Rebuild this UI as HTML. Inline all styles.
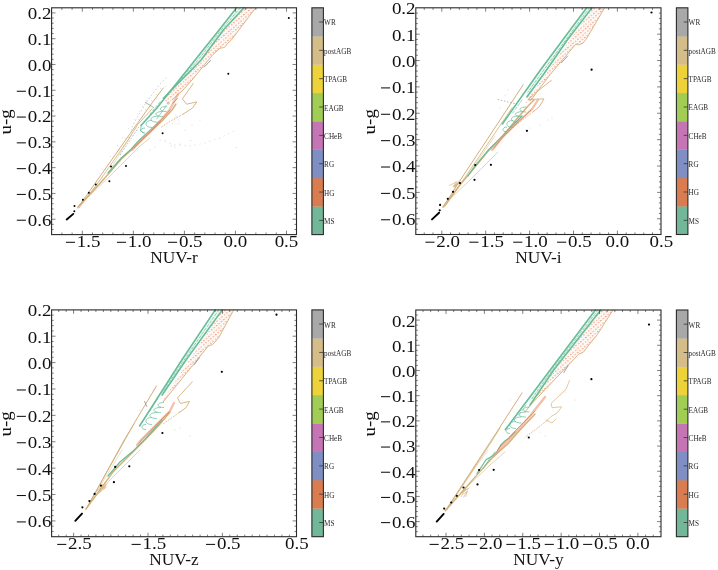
<!DOCTYPE html>
<html><head><meta charset="utf-8"><style>
html,body{margin:0;padding:0;background:#fff;width:718px;height:570px;overflow:hidden}
svg{display:block;will-change:transform}
.tl{font-family:"Liberation Serif", serif;font-size:16.5px;fill:#111}
.al{font-family:"Liberation Serif", serif;font-size:16.5px;fill:#111}
.cl{font-family:"Liberation Serif", serif;font-size:7.2px;fill:#2a2a2a}
</style></head><body>
<svg width="718" height="570" viewBox="0 0 718 570">
<rect width="718" height="570" fill="#fff"/>
<defs>
<pattern id="hatch" width="3.2" height="3.2" patternUnits="userSpaceOnUse" patternTransform="rotate(-40)">
<path d="M0.5 0.5L2.3 2.3M2.3 0.5L0.5 2.3" stroke="#ee8f6a" stroke-width="0.7" opacity="0.85"/>
</pattern>
</defs>
<g><path d="M132.0 127.0 L138.0 116.0 L146.0 103.0 L154.0 92.0 L160.0 84.0 L166.0 78.0" fill="none" stroke="#b8b8b8" stroke-width="0.70" stroke-linejoin="round" stroke-linecap="round" stroke-dasharray="0.7 3"/><path d="M160.0 140.0 L175.0 145.0 L190.0 146.0 L205.0 143.0 L220.0 138.0 L236.0 130.0" fill="none" stroke="#d5cdb8" stroke-width="0.60" stroke-linejoin="round" stroke-linecap="round" stroke-dasharray="0.6 4.5"/><circle cx="99.6" cy="173.4" r="0.45" fill="#bbb"/><circle cx="110.4" cy="156.6" r="0.45" fill="#bbb"/><circle cx="117.6" cy="145.4" r="0.45" fill="#bbb"/><circle cx="122.6" cy="137.6" r="0.45" fill="#bbb"/><circle cx="128.4" cy="128.6" r="0.45" fill="#bbb"/><circle cx="134.2" cy="119.6" r="0.45" fill="#bbb"/><circle cx="139.2" cy="111.8" r="0.45" fill="#bbb"/><circle cx="142.8" cy="106.2" r="0.45" fill="#bbb"/><circle cx="146.4" cy="100.6" r="0.45" fill="#bbb"/><circle cx="104.1" cy="169.5" r="0.45" fill="#bbb"/><circle cx="117.2" cy="150.8" r="0.45" fill="#bbb"/><circle cx="125.8" cy="138.2" r="0.45" fill="#bbb"/><circle cx="131.9" cy="129.5" r="0.45" fill="#bbb"/><circle cx="138.9" cy="119.5" r="0.45" fill="#bbb"/><circle cx="145.9" cy="109.5" r="0.45" fill="#bbb"/><circle cx="151.9" cy="100.8" r="0.45" fill="#bbb"/><circle cx="156.3" cy="94.5" r="0.45" fill="#bbb"/><circle cx="160.6" cy="88.2" r="0.45" fill="#bbb"/><circle cx="105.6" cy="168.9" r="0.45" fill="#bbb"/><circle cx="119.4" cy="149.8" r="0.45" fill="#bbb"/><circle cx="128.6" cy="137.1" r="0.45" fill="#bbb"/><circle cx="135.0" cy="128.3" r="0.45" fill="#bbb"/><circle cx="142.4" cy="118.1" r="0.45" fill="#bbb"/><circle cx="149.8" cy="107.9" r="0.45" fill="#bbb"/><circle cx="156.2" cy="99.0" r="0.45" fill="#bbb"/><circle cx="160.8" cy="92.7" r="0.45" fill="#bbb"/><circle cx="165.4" cy="86.4" r="0.45" fill="#bbb"/><path d="M244.0 8.0 L255.5 8.0 L231.6 39.7 L220.0 48.2 L213.0 54.5 L208.4 60.0 L192.0 80.0 L182.0 91.0 L172.0 100.0 L167.6 104.0 L163.4 98.2 L181.5 80.0 L201.1 60.0 L223.4 30.0Z" fill="url(#hatch)" /><path d="M255.5 8.0 L231.6 39.7 L227.0 44.0 L224.5 47.5 L220.0 48.2 L213.0 54.5 L208.4 60.0 L192.0 80.0 L182.0 91.0 L172.0 100.0" fill="none" stroke="#d2b07a" stroke-width="0.90" stroke-linejoin="round" stroke-linecap="round" /><path d="M77.5 208.0 L98.2 179.0 L130.0 133.7 L154.2 100.0 L163.3 88.0" fill="none" stroke="#d2b07a" stroke-width="1.00" stroke-linejoin="round" stroke-linecap="round" /><path d="M79.0 208.0 L100.8 179.0 L128.0 140.0 L137.7 124.6 L152.0 109.0" fill="none" stroke="#d2b07a" stroke-width="0.80" stroke-linejoin="round" stroke-linecap="round" /><path d="M80.0 206.0 L104.5 179.0 L131.8 134.0" fill="none" stroke="#d2b07a" stroke-width="0.60" stroke-linejoin="round" stroke-linecap="round" opacity="0.7"/><path d="M78.0 207.0 L109.7 172.6 L121.3 159.0 L130.8 150.5 L139.2 142.1 L149.7 132.6 L162.0 121.0 L172.0 110.0 L176.0 104.0" fill="none" stroke="#d2b07a" stroke-width="1.40" stroke-linejoin="round" stroke-linecap="round" /><path d="M85.0 200.0 L110.0 176.0 L126.0 160.0 L140.0 146.0 L150.0 138.0" fill="none" stroke="#d2b07a" stroke-width="0.70" stroke-linejoin="round" stroke-linecap="round" opacity="0.8"/><path d="M108.0 173.0 L121.3 158.0 L130.8 149.5 L139.1 140.2 L149.7 130.6 L160.0 121.0" fill="none" stroke="#66bd98" stroke-width="1.20" stroke-linejoin="round" stroke-linecap="round" /><path d="M132.0 150.0 L141.9 140.0 L155.0 127.0 L170.0 109.1 L178.2 94.0" fill="none" stroke="#ec9e7c" stroke-width="2.20" stroke-linejoin="round" stroke-linecap="round" opacity="0.65"/><path d="M134.0 148.0 L143.0 139.0 L156.0 126.0 L170.0 110.0" fill="none" stroke="#e0875c" stroke-width="0.80" stroke-linejoin="round" stroke-linecap="round" /><circle cx="168.3" cy="103.2" r="1.6" fill="#d2b07a" opacity="0.6"/><path d="M145.4 102.5 L153.5 107.4" fill="none" stroke="#8a8a8a" stroke-width="0.70" stroke-linejoin="round" stroke-linecap="round" /><path d="M204.2 67.1 L210.5 60.5" fill="none" stroke="#8a8a8a" stroke-width="0.80" stroke-linejoin="round" stroke-linecap="round" /><path d="M120.3 154.7 L139.2 126.3" fill="none" stroke="#aaa" stroke-width="0.80" stroke-linejoin="round" stroke-linecap="round" stroke-dasharray="0.8 2.4"/><path d="M152.1 120.4 C144.0 120.4 144.0 127.4 152.1 127.4" fill="none" stroke="#66bd98" stroke-width="0.75"/><path d="M158.0 116.2 C148.6 116.2 148.6 122.2 158.0 122.2" fill="none" stroke="#66bd98" stroke-width="0.75"/><path d="M163.0 111.5 C153.6 111.5 153.6 116.5 163.0 116.5" fill="none" stroke="#66bd98" stroke-width="0.75"/><path d="M166.5 106.5 C158.4 106.5 158.4 111.5 166.5 111.5" fill="none" stroke="#66bd98" stroke-width="0.75"/><path d="M145.0 128.0 C139.6 128.0 139.6 133.0 145.0 133.0" fill="none" stroke="#66bd98" stroke-width="0.75"/><path d="M177.5 98.6 L172.5 103.2" fill="none" stroke="#66bd98" stroke-width="0.90" stroke-linejoin="round" stroke-linecap="round" /><path d="M166.5 105.6 L156.7 119.0" fill="none" stroke="#66bd98" stroke-width="0.80" stroke-linejoin="round" stroke-linecap="round" opacity="0.8"/><path d="M236.6 7.8 L219.1 30.0 L195.1 60.0 L179.2 80.0 L169.6 92.0 L156.9 108.0 L141.2 125.3" fill="none" stroke="#66bd98" stroke-width="1.60" stroke-linejoin="round" stroke-linecap="round" /><path d="M236.6 7.8 L219.1 30.0 L195.1 60.0 L179.2 80.0 L163.4 98.2 L181.5 80.0 L201.1 60.0 L223.4 30.0 L244.0 7.8Z" fill="#66bd98" opacity="0.12"/><path d="M141.2 125.3 L140.5 130.9 L144.0 133.0" fill="none" stroke="#66bd98" stroke-width="0.80" stroke-linejoin="round" stroke-linecap="round" /><path d="M244.0 7.8 L223.4 30.0 L201.1 60.0 L181.5 80.0 L163.4 98.2" fill="none" stroke="#66bd98" stroke-width="1.60" stroke-linejoin="round" stroke-linecap="round" /><path d="M240.3 7.8 L221.2 30.0 L198.1 60.0 L180.3 80.0 L166.0 95.0" fill="none" stroke="#66bd98" stroke-width="0.90" stroke-linejoin="round" stroke-linecap="round" stroke-dasharray="2.5 2" opacity="0.75"/><path d="M160.0 102.0 L150.0 114.0" fill="none" stroke="#66bd98" stroke-width="0.80" stroke-linejoin="round" stroke-linecap="round" stroke-dasharray="2.5 2" opacity="0.8"/><path d="M193.2 83.5 L182.4 98.9 L186.6 104.2 L196.8 101.9 L192.5 108.1 L183.0 114.2" fill="none" stroke="#d2b07a" stroke-width="0.90" stroke-linejoin="round" stroke-linecap="round" /><path d="M183.0 114.2 L170.5 121.0 L160.0 128.0" fill="none" stroke="#d2b07a" stroke-width="0.80" stroke-linejoin="round" stroke-linecap="round" stroke-dasharray="1 2"/><path d="M172.0 124.0 L176.0 115.0 L180.0 124.0 L172.0 124.0" fill="none" stroke="#d2b07a" stroke-width="0.40" stroke-linejoin="round" stroke-linecap="round" opacity="0.45" stroke-dasharray="1 1"/><circle cx="190.7" cy="140.5" r="0.50" fill="#ccb"/><circle cx="171.4" cy="145.8" r="0.50" fill="#ccb"/><circle cx="236.3" cy="147.5" r="0.50" fill="#ccb"/><circle cx="175.0" cy="147.0" r="0.50" fill="#ccb"/><circle cx="180.0" cy="144.0" r="0.50" fill="#ccb"/><circle cx="150.0" cy="150.0" r="0.50" fill="#ccb"/><circle cx="155.0" cy="147.0" r="0.50" fill="#ccb"/><circle cx="185.0" cy="130.0" r="0.50" fill="#ccb"/><circle cx="192.0" cy="125.0" r="0.50" fill="#ccb"/><circle cx="165.0" cy="140.0" r="0.50" fill="#ccb"/><circle cx="200.0" cy="120.0" r="0.50" fill="#ccb"/><path d="M66.7 219.5 L73.3 213.9" fill="none" stroke="#000" stroke-width="1.90" stroke-linejoin="round" stroke-linecap="round" /><circle cx="74.3" cy="211.3" r="1.00" fill="#000"/><circle cx="74.5" cy="205.9" r="1.00" fill="#000"/><circle cx="82.9" cy="199.8" r="1.00" fill="#000"/><circle cx="88.8" cy="192.8" r="1.00" fill="#000"/><circle cx="95.8" cy="184.4" r="1.00" fill="#000"/><circle cx="109.4" cy="181.2" r="1.00" fill="#000"/><circle cx="111.0" cy="166.6" r="1.00" fill="#000"/><circle cx="126.0" cy="166.1" r="1.00" fill="#000"/><circle cx="162.6" cy="133.3" r="1.00" fill="#000"/><circle cx="228.3" cy="73.7" r="1.00" fill="#000"/><circle cx="288.8" cy="17.9" r="1.00" fill="#000"/></g>
<g><path d="M592.8 8.0 L604.5 8.0 L594.0 25.9 L586.1 39.4 L581.8 44.3 L575.6 44.3 L549.8 75.0 L530.5 100.7 L524.0 104.0 L528.1 98.3 L544.9 75.0Z" fill="url(#hatch)" /><path d="M604.5 8.0 L594.0 25.9 L586.1 39.4 L583.0 43.0 L579.0 44.8 L575.6 44.3 L549.8 75.0 L530.5 100.7" fill="none" stroke="#d2b07a" stroke-width="0.90" stroke-linejoin="round" stroke-linecap="round" /><path d="M443.0 207.0 L463.0 176.0 L500.0 120.0 L523.2 84.7" fill="none" stroke="#d2b07a" stroke-width="1.00" stroke-linejoin="round" stroke-linecap="round" /><path d="M444.5 207.0 L466.0 176.0 L503.8 120.0 L512.0 108.0" fill="none" stroke="#d2b07a" stroke-width="0.80" stroke-linejoin="round" stroke-linecap="round" /><path d="M446.0 205.0 L470.0 172.0 L495.0 136.0" fill="none" stroke="#d2b07a" stroke-width="0.60" stroke-linejoin="round" stroke-linecap="round" opacity="0.7"/><path d="M443.0 207.0 L459.4 185.6 L474.8 167.3 L488.4 150.9 L500.0 139.3 L515.0 121.0 L528.0 106.0 L534.0 100.0" fill="none" stroke="#d2b07a" stroke-width="1.40" stroke-linejoin="round" stroke-linecap="round" /><path d="M448.0 201.0 L470.0 180.0 L485.0 165.0 L498.0 152.0" fill="none" stroke="#d2b07a" stroke-width="0.70" stroke-linejoin="round" stroke-linecap="round" opacity="0.8"/><path d="M449.2 185.6L457.5 181.4M453.5 187.1L460.5 182.6M453.7 186.7L459.2 181.2M455.3 191.7L459.3 186.3M452.4 186.3L459.0 182.9M455.1 187.3L456.5 182.6M453.6 190.1L458.7 182.6M453.8 186.0L456.1 181.6M453.9 187.7L460.2 180.4" stroke="#d2b07a" stroke-width="0.70" fill="none" opacity="0.85"/><path d="M468.0 176.0 L474.8 166.3 L488.4 149.9 L500.0 138.3 L512.0 126.0 L522.0 116.0" fill="none" stroke="#66bd98" stroke-width="1.20" stroke-linejoin="round" stroke-linecap="round" /><path d="M492.3 150.0 L501.1 138.8 L515.0 125.0 L531.8 109.3 L538.0 100.0" fill="none" stroke="#ec9e7c" stroke-width="2.20" stroke-linejoin="round" stroke-linecap="round" opacity="0.65"/><path d="M494.0 148.0 L503.0 137.0 L516.0 124.0 L531.0 110.0" fill="none" stroke="#e0875c" stroke-width="0.80" stroke-linejoin="round" stroke-linecap="round" /><path d="M498.0 99.5 L515.8 103.8" fill="none" stroke="#aaa" stroke-width="0.80" stroke-linejoin="round" stroke-linecap="round" stroke-dasharray="0.8 2.4"/><path d="M561.5 62.7 L567.6 56.0" fill="none" stroke="#8a8a8a" stroke-width="0.80" stroke-linejoin="round" stroke-linecap="round" /><path d="M513.0 120.5 C504.9 120.5 504.9 127.5 513.0 127.5" fill="none" stroke="#66bd98" stroke-width="0.75"/><path d="M518.5 116.0 C509.1 116.0 509.1 122.0 518.5 122.0" fill="none" stroke="#66bd98" stroke-width="0.75"/><path d="M522.5 111.7 C513.0 111.7 513.0 116.7 522.5 116.7" fill="none" stroke="#66bd98" stroke-width="0.75"/><path d="M526.0 107.0 C517.9 107.0 517.9 112.0 526.0 112.0" fill="none" stroke="#66bd98" stroke-width="0.75"/><path d="M507.0 127.0 C501.6 127.0 501.6 132.0 507.0 132.0" fill="none" stroke="#66bd98" stroke-width="0.75"/><path d="M586.7 7.8 L540.4 70.0 L526.0 90.0 L526.9 97.0 L544.5 73.0 L567.3 40.0 L592.0 7.8Z" fill="#66bd98" opacity="0.12"/><path d="M586.7 7.8 L540.4 70.0 L502.3 124.0" fill="none" stroke="#66bd98" stroke-width="1.60" stroke-linejoin="round" stroke-linecap="round" /><path d="M592.0 7.8 L567.3 40.0 L544.5 73.0 L526.9 97.0" fill="none" stroke="#66bd98" stroke-width="1.60" stroke-linejoin="round" stroke-linecap="round" /><path d="M589.4 7.8 L542.3 72.0 L528.0 92.0" fill="none" stroke="#66bd98" stroke-width="0.90" stroke-linejoin="round" stroke-linecap="round" stroke-dasharray="2.5 2" opacity="0.75"/><path d="M522.0 100.0 L512.0 114.0" fill="none" stroke="#66bd98" stroke-width="0.80" stroke-linejoin="round" stroke-linecap="round" stroke-dasharray="2.5 2" opacity="0.8"/><path d="M551.4 80.4 L541.6 88.0 L528.1 99.5 L544.0 98.9 L539.1 106.9 L533.0 111.8" fill="none" stroke="#d2b07a" stroke-width="0.90" stroke-linejoin="round" stroke-linecap="round" /><path d="M533.0 111.8 L520.0 122.0 L510.0 130.0" fill="none" stroke="#d2b07a" stroke-width="0.80" stroke-linejoin="round" stroke-linecap="round" stroke-dasharray="1 2"/><circle cx="548.0" cy="120.0" r="0.50" fill="#ccb"/><circle cx="552.0" cy="118.0" r="0.50" fill="#ccb"/><circle cx="540.0" cy="125.0" r="0.50" fill="#ccb"/><circle cx="530.0" cy="128.0" r="0.50" fill="#ccb"/><circle cx="505.0" cy="95.0" r="0.50" fill="#ccb"/><circle cx="508.0" cy="90.0" r="0.50" fill="#ccb"/><circle cx="500.0" cy="108.0" r="0.50" fill="#ccb"/><path d="M432.0 219.4 L439.1 212.7" fill="none" stroke="#000" stroke-width="1.90" stroke-linejoin="round" stroke-linecap="round" /><circle cx="439.7" cy="210.3" r="1.10" fill="#000"/><circle cx="440.1" cy="204.9" r="1.10" fill="#000"/><circle cx="447.8" cy="198.8" r="1.10" fill="#000"/><circle cx="453.0" cy="191.8" r="1.10" fill="#000"/><circle cx="460.0" cy="183.1" r="1.10" fill="#000"/><circle cx="474.5" cy="179.8" r="1.10" fill="#000"/><circle cx="475.2" cy="165.0" r="1.10" fill="#000"/><circle cx="490.9" cy="164.8" r="1.10" fill="#000"/><circle cx="526.9" cy="130.8" r="1.10" fill="#000"/><circle cx="591.6" cy="69.7" r="1.10" fill="#000"/><circle cx="651.5" cy="12.5" r="1.10" fill="#000"/></g>
<g><path d="M222.3 310.0 L233.7 310.0 L218.8 337.5 L212.6 344.5 L208.2 346.2 L163.5 401.5 L158.0 406.0 L162.1 402.1 L165.3 396.2Z" fill="url(#hatch)" /><path d="M233.7 310.0 L218.8 337.5 L215.0 342.0 L212.6 344.5 L208.2 346.2 L163.5 401.5" fill="none" stroke="#d2b07a" stroke-width="0.90" stroke-linejoin="round" stroke-linecap="round" /><path d="M85.9 509.2 L136.1 420.0 L156.5 386.0" fill="none" stroke="#d2b07a" stroke-width="1.00" stroke-linejoin="round" stroke-linecap="round" /><path d="M87.0 508.0 L124.5 439.3 L134.0 424.0" fill="none" stroke="#d2b07a" stroke-width="0.80" stroke-linejoin="round" stroke-linecap="round" /><path d="M88.0 506.0 L110.0 470.0 L122.0 450.0" fill="none" stroke="#d2b07a" stroke-width="0.60" stroke-linejoin="round" stroke-linecap="round" opacity="0.7"/><path d="M85.9 509.2 L112.9 472.1 L132.2 452.8 L145.7 439.3 L160.0 424.0 L170.0 412.0" fill="none" stroke="#d2b07a" stroke-width="1.40" stroke-linejoin="round" stroke-linecap="round" /><path d="M90.0 503.0 L110.0 480.0 L128.0 462.0 L140.0 450.0" fill="none" stroke="#d2b07a" stroke-width="0.70" stroke-linejoin="round" stroke-linecap="round" opacity="0.8"/><path d="M99.5 490.9L102.9 484.3M97.2 490.8L100.9 487.3M103.6 489.4L106.4 484.2M99.9 486.8L105.8 483.0M98.9 491.5L105.4 485.4M101.6 489.2L105.5 485.9M103.0 489.0L105.4 484.7M99.8 492.4L106.8 486.7M99.2 493.2L104.1 486.1" stroke="#d2b07a" stroke-width="0.70" fill="none" opacity="0.85"/><path d="M108.0 476.0 L120.0 462.0 L132.2 451.8 L145.7 438.3 L155.0 428.0 L162.0 420.0" fill="none" stroke="#66bd98" stroke-width="1.20" stroke-linejoin="round" stroke-linecap="round" /><path d="M137.0 445.0 L141.0 440.0 L155.0 426.0 L169.8 411.2 L174.0 403.0" fill="none" stroke="#ec9e7c" stroke-width="2.20" stroke-linejoin="round" stroke-linecap="round" opacity="0.65"/><path d="M139.0 443.0 L156.0 425.0 L169.0 412.0" fill="none" stroke="#e0875c" stroke-width="0.80" stroke-linejoin="round" stroke-linecap="round" /><path d="M144.6 401.4 L146.7 406.3" fill="none" stroke="#8a8a8a" stroke-width="0.80" stroke-linejoin="round" stroke-linecap="round" /><path d="M194.2 364.6 L199.5 357.6" fill="none" stroke="#8a8a8a" stroke-width="0.80" stroke-linejoin="round" stroke-linecap="round" /><path d="M152.0 417.5 C143.9 417.5 143.9 424.5 152.0 424.5" fill="none" stroke="#66bd98" stroke-width="0.75"/><path d="M157.0 412.5 C147.6 412.5 147.6 418.5 157.0 418.5" fill="none" stroke="#66bd98" stroke-width="0.75"/><path d="M161.0 407.5 C151.6 407.5 151.6 412.5 161.0 412.5" fill="none" stroke="#66bd98" stroke-width="0.75"/><path d="M164.0 402.5 C155.9 402.5 155.9 407.5 164.0 407.5" fill="none" stroke="#66bd98" stroke-width="0.75"/><path d="M146.0 424.5 C140.6 424.5 140.6 429.5 146.0 429.5" fill="none" stroke="#66bd98" stroke-width="0.75"/><path d="M215.3 309.9 L181.8 360.0 L160.0 394.0 L162.1 395.1 L186.0 360.0 L222.3 309.9Z" fill="#66bd98" opacity="0.12"/><path d="M215.3 309.9 L181.8 360.0 L139.6 426.0" fill="none" stroke="#66bd98" stroke-width="1.60" stroke-linejoin="round" stroke-linecap="round" /><path d="M222.3 309.9 L186.0 360.0 L162.1 395.1" fill="none" stroke="#66bd98" stroke-width="1.60" stroke-linejoin="round" stroke-linecap="round" /><path d="M218.8 309.9 L184.0 360.0 L163.0 392.0" fill="none" stroke="#66bd98" stroke-width="0.90" stroke-linejoin="round" stroke-linecap="round" stroke-dasharray="2.5 2" opacity="0.75"/><path d="M158.0 398.0 L150.0 411.0" fill="none" stroke="#66bd98" stroke-width="0.80" stroke-linejoin="round" stroke-linecap="round" stroke-dasharray="2.5 2" opacity="0.8"/><path d="M192.3 381.8 L177.5 397.9 L180.4 403.5 L189.5 401.4 L186.0 407.7 L179.0 412.6" fill="none" stroke="#d2b07a" stroke-width="0.90" stroke-linejoin="round" stroke-linecap="round" /><path d="M179.0 412.6 L170.0 419.0 L162.1 424.6" fill="none" stroke="#d2b07a" stroke-width="0.80" stroke-linejoin="round" stroke-linecap="round" stroke-dasharray="1 2"/><circle cx="175.0" cy="430.0" r="0.50" fill="#ccb"/><circle cx="180.0" cy="428.0" r="0.50" fill="#ccb"/><circle cx="190.0" cy="436.0" r="0.50" fill="#ccb"/><circle cx="150.0" cy="395.0" r="0.50" fill="#ccb"/><circle cx="153.0" cy="390.0" r="0.50" fill="#ccb"/><circle cx="140.0" cy="410.0" r="0.50" fill="#ccb"/><path d="M75.3 520.8 L82.0 513.6" fill="none" stroke="#000" stroke-width="1.90" stroke-linejoin="round" stroke-linecap="round" /><circle cx="82.4" cy="507.3" r="1.10" fill="#000"/><circle cx="89.4" cy="501.1" r="1.10" fill="#000"/><circle cx="94.6" cy="493.9" r="1.10" fill="#000"/><circle cx="100.9" cy="485.6" r="1.10" fill="#000"/><circle cx="113.9" cy="482.2" r="1.10" fill="#000"/><circle cx="115.2" cy="466.9" r="1.10" fill="#000"/><circle cx="129.3" cy="466.3" r="1.10" fill="#000"/><circle cx="162.4" cy="433.0" r="1.10" fill="#000"/><circle cx="221.8" cy="371.8" r="1.10" fill="#000"/><circle cx="276.5" cy="314.7" r="1.10" fill="#000"/></g>
<g><path d="M600.7 310.0 L613.0 310.0 L597.2 334.8 L583.2 352.4 L578.8 354.1 L530.5 405.0 L527.0 410.0 L530.9 406.8 L529.6 404.0Z" fill="url(#hatch)" /><path d="M613.0 310.0 L597.2 334.8 L588.0 346.0 L583.2 352.4 L578.8 354.1 L530.5 405.0 L525.0 412.0" fill="none" stroke="#d2b07a" stroke-width="0.90" stroke-linejoin="round" stroke-linecap="round" /><path d="M445.4 510.7 L498.1 430.0 L522.1 392.8" fill="none" stroke="#d2b07a" stroke-width="1.00" stroke-linejoin="round" stroke-linecap="round" /><path d="M446.5 510.0 L490.0 444.0 L500.0 428.0" fill="none" stroke="#d2b07a" stroke-width="0.80" stroke-linejoin="round" stroke-linecap="round" /><path d="M448.0 507.0 L475.0 468.0 L488.0 450.0" fill="none" stroke="#d2b07a" stroke-width="0.60" stroke-linejoin="round" stroke-linecap="round" opacity="0.7"/><path d="M445.4 510.7 L477.9 473.9 L493.7 456.3 L507.7 444.0 L520.0 430.0 L535.0 414.0" fill="none" stroke="#d2b07a" stroke-width="1.40" stroke-linejoin="round" stroke-linecap="round" /><path d="M450.0 505.0 L470.0 484.0 L490.0 465.0 L505.0 452.0" fill="none" stroke="#d2b07a" stroke-width="0.70" stroke-linejoin="round" stroke-linecap="round" opacity="0.8"/><path d="M462.2 492.3L464.6 487.6M465.5 497.0L467.6 490.6M461.9 492.4L466.6 488.9M461.2 497.0L463.4 492.1M462.2 492.6L469.4 487.8M463.4 497.5L467.4 490.8M462.4 494.4L466.9 491.7M462.0 491.7L465.7 487.4M460.3 492.9L468.2 488.7" stroke="#d2b07a" stroke-width="0.70" fill="none" opacity="0.85"/><path d="M477.1 473.4 L482.0 466.0 L486.0 459.7 L492.4 456.0 L496.6 452.4 L500.8 445.0 L505.0 440.8 L509.2 438.2 L515.0 432.0" fill="none" stroke="#66bd98" stroke-width="1.20" stroke-linejoin="round" stroke-linecap="round" /><path d="M483.5 468.2 L488.8 460.0 L495.0 452.0" fill="none" stroke="#66bd98" stroke-width="0.80" stroke-linejoin="round" stroke-linecap="round" /><path d="M494.0 456.0 L502.0 447.0 L515.0 433.0 L530.0 416.0 L545.0 397.0" fill="none" stroke="#ec9e7c" stroke-width="2.40" stroke-linejoin="round" stroke-linecap="round" opacity="0.65"/><path d="M498.0 449.0 L515.0 431.0 L535.0 411.0" fill="none" stroke="#e0875c" stroke-width="0.80" stroke-linejoin="round" stroke-linecap="round" /><path d="M563.9 372.5 L568.2 365.5" fill="none" stroke="#8a8a8a" stroke-width="0.80" stroke-linejoin="round" stroke-linecap="round" /><path d="M516.0 421.5 C507.9 421.5 507.9 428.5 516.0 428.5" fill="none" stroke="#66bd98" stroke-width="0.75"/><path d="M521.5 417.0 C512.0 417.0 512.0 423.0 521.5 423.0" fill="none" stroke="#66bd98" stroke-width="0.75"/><path d="M526.0 412.0 C516.5 412.0 516.5 417.0 526.0 417.0" fill="none" stroke="#66bd98" stroke-width="0.75"/><path d="M529.5 407.0 C521.4 407.0 521.4 412.0 529.5 412.0" fill="none" stroke="#66bd98" stroke-width="0.75"/><path d="M510.0 428.5 C504.6 428.5 504.6 433.5 510.0 433.5" fill="none" stroke="#66bd98" stroke-width="0.75"/><path d="M595.4 310.0 L550.2 370.0 L528.0 400.0 L530.0 405.1 L553.7 370.0 L600.7 310.0Z" fill="#66bd98" opacity="0.12"/><path d="M595.4 310.0 L550.2 370.0 L505.4 429.6" fill="none" stroke="#66bd98" stroke-width="1.60" stroke-linejoin="round" stroke-linecap="round" /><path d="M600.7 310.0 L553.7 370.0 L530.0 405.1" fill="none" stroke="#66bd98" stroke-width="1.60" stroke-linejoin="round" stroke-linecap="round" /><path d="M598.0 310.0 L552.0 370.0 L531.0 400.0" fill="none" stroke="#66bd98" stroke-width="0.90" stroke-linejoin="round" stroke-linecap="round" stroke-dasharray="2.5 2" opacity="0.75"/><path d="M526.0 405.0 L518.0 416.0" fill="none" stroke="#66bd98" stroke-width="0.80" stroke-linejoin="round" stroke-linecap="round" stroke-dasharray="2.5 2" opacity="0.8"/><path d="M569.5 380.5 L566.0 389.3 L551.1 403.3 L552.0 407.7 L561.6 406.8 L557.2 413.0 L551.0 416.5 L546.7 420.9" fill="none" stroke="#d2b07a" stroke-width="0.80" stroke-linejoin="round" stroke-linecap="round" opacity="0.85"/><path d="M546.7 420.9 L535.0 430.0 L525.0 437.0" fill="none" stroke="#d2b07a" stroke-width="0.80" stroke-linejoin="round" stroke-linecap="round" stroke-dasharray="1 2"/><path d="M546.0 420.0 L552.0 423.0 L556.0 419.0" fill="none" stroke="#d2b07a" stroke-width="0.70" stroke-linejoin="round" stroke-linecap="round" /><circle cx="560.0" cy="395.0" r="0.50" fill="#ccb"/><circle cx="565.0" cy="392.0" r="0.50" fill="#ccb"/><circle cx="548.0" cy="388.0" r="0.50" fill="#ccb"/><circle cx="540.0" cy="432.0" r="0.50" fill="#ccb"/><circle cx="545.0" cy="436.0" r="0.50" fill="#ccb"/><circle cx="510.0" cy="400.0" r="0.50" fill="#ccb"/><circle cx="575.0" cy="400.0" r="0.50" fill="#ccb"/><path d="M436.7 521.6 L443.7 513.9" fill="none" stroke="#000" stroke-width="1.90" stroke-linejoin="round" stroke-linecap="round" /><circle cx="444.2" cy="508.6" r="1.10" fill="#000"/><circle cx="451.2" cy="502.5" r="1.10" fill="#000"/><circle cx="456.8" cy="495.8" r="1.10" fill="#000"/><circle cx="463.5" cy="487.5" r="1.10" fill="#000"/><circle cx="477.5" cy="484.4" r="1.10" fill="#000"/><circle cx="479.1" cy="470.0" r="1.10" fill="#000"/><circle cx="493.7" cy="469.8" r="1.10" fill="#000"/><circle cx="528.8" cy="437.5" r="1.10" fill="#000"/><circle cx="591.4" cy="379.2" r="1.10" fill="#000"/><circle cx="649.0" cy="324.6" r="1.10" fill="#000"/></g>
<path d="M61.88 234.60v-2.10M61.88 7.80v2.10M72.09 234.60v-2.10M72.09 7.80v2.10M82.30 234.60v-3.90M82.30 7.80v3.90M92.51 234.60v-2.10M92.51 7.80v2.10M102.72 234.60v-2.10M102.72 7.80v2.10M112.93 234.60v-2.10M112.93 7.80v2.10M123.14 234.60v-2.10M123.14 7.80v2.10M133.35 234.60v-3.90M133.35 7.80v3.90M143.56 234.60v-2.10M143.56 7.80v2.10M153.77 234.60v-2.10M153.77 7.80v2.10M163.98 234.60v-2.10M163.98 7.80v2.10M174.19 234.60v-2.10M174.19 7.80v2.10M184.40 234.60v-3.90M184.40 7.80v3.90M194.61 234.60v-2.10M194.61 7.80v2.10M204.82 234.60v-2.10M204.82 7.80v2.10M215.03 234.60v-2.10M215.03 7.80v2.10M225.24 234.60v-2.10M225.24 7.80v2.10M235.45 234.60v-3.90M235.45 7.80v3.90M245.66 234.60v-2.10M245.66 7.80v2.10M255.87 234.60v-2.10M255.87 7.80v2.10M266.08 234.60v-2.10M266.08 7.80v2.10M276.29 234.60v-2.10M276.29 7.80v2.10M286.50 234.60v-3.90M286.50 7.80v3.90M51.60 229.54h2.10M296.50 229.54h-2.10M51.60 224.38h2.10M296.50 224.38h-2.10M51.60 219.22h3.90M296.50 219.22h-3.90M51.60 214.06h2.10M296.50 214.06h-2.10M51.60 208.90h2.10M296.50 208.90h-2.10M51.60 203.75h2.10M296.50 203.75h-2.10M51.60 198.59h2.10M296.50 198.59h-2.10M51.60 193.43h3.90M296.50 193.43h-3.90M51.60 188.27h2.10M296.50 188.27h-2.10M51.60 183.11h2.10M296.50 183.11h-2.10M51.60 177.96h2.10M296.50 177.96h-2.10M51.60 172.80h2.10M296.50 172.80h-2.10M51.60 167.64h3.90M296.50 167.64h-3.90M51.60 162.48h2.10M296.50 162.48h-2.10M51.60 157.32h2.10M296.50 157.32h-2.10M51.60 152.17h2.10M296.50 152.17h-2.10M51.60 147.01h2.10M296.50 147.01h-2.10M51.60 141.85h3.90M296.50 141.85h-3.90M51.60 136.69h2.10M296.50 136.69h-2.10M51.60 131.53h2.10M296.50 131.53h-2.10M51.60 126.38h2.10M296.50 126.38h-2.10M51.60 121.22h2.10M296.50 121.22h-2.10M51.60 116.06h3.90M296.50 116.06h-3.90M51.60 110.90h2.10M296.50 110.90h-2.10M51.60 105.74h2.10M296.50 105.74h-2.10M51.60 100.59h2.10M296.50 100.59h-2.10M51.60 95.43h2.10M296.50 95.43h-2.10M51.60 90.27h3.90M296.50 90.27h-3.90M51.60 85.11h2.10M296.50 85.11h-2.10M51.60 79.95h2.10M296.50 79.95h-2.10M51.60 74.80h2.10M296.50 74.80h-2.10M51.60 69.64h2.10M296.50 69.64h-2.10M51.60 64.48h3.90M296.50 64.48h-3.90M51.60 59.32h2.10M296.50 59.32h-2.10M51.60 54.16h2.10M296.50 54.16h-2.10M51.60 49.01h2.10M296.50 49.01h-2.10M51.60 43.85h2.10M296.50 43.85h-2.10M51.60 38.69h3.90M296.50 38.69h-3.90M51.60 33.53h2.10M296.50 33.53h-2.10M51.60 28.37h2.10M296.50 28.37h-2.10M51.60 23.22h2.10M296.50 23.22h-2.10M51.60 18.06h2.10M296.50 18.06h-2.10M51.60 12.90h3.90M296.50 12.90h-3.90" stroke="#3a3a3a" stroke-width="0.65" fill="none"/>
<rect x="51.60" y="7.80" width="244.90" height="226.80" fill="none" stroke="#2a2a2a" stroke-width="1.1"/>
<text transform="translate(76.80 247.20) scale(1.150 1)" text-anchor="start" class="tl">1.5</text>
<path d="M65.90 242.30h9.1" stroke="#111" stroke-width="1.05"/>
<text transform="translate(127.85 247.20) scale(1.150 1)" text-anchor="start" class="tl">1.0</text>
<path d="M116.95 242.30h9.1" stroke="#111" stroke-width="1.05"/>
<text transform="translate(178.90 247.20) scale(1.150 1)" text-anchor="start" class="tl">0.5</text>
<path d="M168.00 242.30h9.1" stroke="#111" stroke-width="1.05"/>
<text transform="translate(235.45 247.20) scale(1.150 1)" text-anchor="middle" class="tl">0.0</text>
<text transform="translate(286.50 247.20) scale(1.150 1)" text-anchor="middle" class="tl">0.5</text>
<text transform="translate(51.40 225.62) scale(1.150 1)" text-anchor="end" class="tl">0.6</text>
<path d="M16.80 220.22h9.1" stroke="#111" stroke-width="1.05"/>
<text transform="translate(51.40 199.83) scale(1.150 1)" text-anchor="end" class="tl">0.5</text>
<path d="M16.80 194.43h9.1" stroke="#111" stroke-width="1.05"/>
<text transform="translate(51.40 174.04) scale(1.150 1)" text-anchor="end" class="tl">0.4</text>
<path d="M16.80 168.64h9.1" stroke="#111" stroke-width="1.05"/>
<text transform="translate(51.40 148.25) scale(1.150 1)" text-anchor="end" class="tl">0.3</text>
<path d="M16.80 142.85h9.1" stroke="#111" stroke-width="1.05"/>
<text transform="translate(51.40 122.46) scale(1.150 1)" text-anchor="end" class="tl">0.2</text>
<path d="M16.80 117.06h9.1" stroke="#111" stroke-width="1.05"/>
<text transform="translate(51.40 96.67) scale(1.150 1)" text-anchor="end" class="tl">0.1</text>
<path d="M16.80 91.27h9.1" stroke="#111" stroke-width="1.05"/>
<text transform="translate(51.40 70.88) scale(1.150 1)" text-anchor="end" class="tl">0.0</text>
<text transform="translate(51.40 45.09) scale(1.150 1)" text-anchor="end" class="tl">0.1</text>
<text transform="translate(51.40 19.30) scale(1.150 1)" text-anchor="end" class="tl">0.2</text>
<text transform="translate(174.05 262.60) scale(1.05 1)" text-anchor="middle" class="al">NUV-r</text>
<text transform="translate(11.20 121.80) rotate(-90) scale(1.15 1)" text-anchor="middle" class="al">u-g</text>
<rect x="311.90" y="206.25" width="11.50" height="28.65" fill="#72b898"/>
<rect x="311.90" y="177.90" width="11.50" height="28.65" fill="#d97d50"/>
<rect x="311.90" y="149.55" width="11.50" height="28.65" fill="#7f8ec3"/>
<rect x="311.90" y="121.20" width="11.50" height="28.65" fill="#c575b4"/>
<rect x="311.90" y="92.85" width="11.50" height="28.65" fill="#a2cd55"/>
<rect x="311.90" y="64.50" width="11.50" height="28.65" fill="#edd23a"/>
<rect x="311.90" y="36.15" width="11.50" height="28.65" fill="#d5bd8a"/>
<rect x="311.90" y="7.80" width="11.50" height="28.65" fill="#a8a8a8"/>
<rect x="311.90" y="7.80" width="11.50" height="226.80" fill="none" stroke="#2a2a2a" stroke-width="1.1"/>
<text x="324.10" y="223.92" class="cl">MS</text>
<text x="324.10" y="195.57" class="cl">HG</text>
<text x="324.10" y="167.22" class="cl">RG</text>
<text x="324.10" y="138.88" class="cl">CHeB</text>
<text x="324.10" y="110.53" class="cl">EAGB</text>
<text x="324.10" y="82.18" class="cl">TPAGB</text>
<text x="324.10" y="53.83" class="cl">postAGB</text>
<text x="324.10" y="25.48" class="cl">WR</text>
<path d="M323.40 220.42h-4.2M323.40 192.07h-4.2M323.40 163.72h-4.2M323.40 135.38h-4.2M323.40 107.03h-4.2M323.40 78.68h-4.2M323.40 50.33h-4.2M323.40 21.98h-4.2" stroke="#333" stroke-width="0.8" fill="none"/>
<path d="M424.24 234.50v-2.10M424.24 7.80v2.10M433.02 234.50v-2.10M433.02 7.80v2.10M441.80 234.50v-3.90M441.80 7.80v3.90M450.58 234.50v-2.10M450.58 7.80v2.10M459.36 234.50v-2.10M459.36 7.80v2.10M468.14 234.50v-2.10M468.14 7.80v2.10M476.92 234.50v-2.10M476.92 7.80v2.10M485.70 234.50v-3.90M485.70 7.80v3.90M494.48 234.50v-2.10M494.48 7.80v2.10M503.26 234.50v-2.10M503.26 7.80v2.10M512.04 234.50v-2.10M512.04 7.80v2.10M520.82 234.50v-2.10M520.82 7.80v2.10M529.60 234.50v-3.90M529.60 7.80v3.90M538.38 234.50v-2.10M538.38 7.80v2.10M547.16 234.50v-2.10M547.16 7.80v2.10M555.94 234.50v-2.10M555.94 7.80v2.10M564.72 234.50v-2.10M564.72 7.80v2.10M573.50 234.50v-3.90M573.50 7.80v3.90M582.28 234.50v-2.10M582.28 7.80v2.10M591.06 234.50v-2.10M591.06 7.80v2.10M599.84 234.50v-2.10M599.84 7.80v2.10M608.62 234.50v-2.10M608.62 7.80v2.10M617.40 234.50v-3.90M617.40 7.80v3.90M626.18 234.50v-2.10M626.18 7.80v2.10M634.96 234.50v-2.10M634.96 7.80v2.10M643.74 234.50v-2.10M643.74 7.80v2.10M652.52 234.50v-2.10M652.52 7.80v2.10M415.80 229.31h2.10M661.00 229.31h-2.10M415.80 224.03h2.10M661.00 224.03h-2.10M415.80 218.76h3.90M661.00 218.76h-3.90M415.80 213.49h2.10M661.00 213.49h-2.10M415.80 208.21h2.10M661.00 208.21h-2.10M415.80 202.94h2.10M661.00 202.94h-2.10M415.80 197.66h2.10M661.00 197.66h-2.10M415.80 192.39h3.90M661.00 192.39h-3.90M415.80 187.12h2.10M661.00 187.12h-2.10M415.80 181.84h2.10M661.00 181.84h-2.10M415.80 176.57h2.10M661.00 176.57h-2.10M415.80 171.29h2.10M661.00 171.29h-2.10M415.80 166.02h3.90M661.00 166.02h-3.90M415.80 160.75h2.10M661.00 160.75h-2.10M415.80 155.47h2.10M661.00 155.47h-2.10M415.80 150.20h2.10M661.00 150.20h-2.10M415.80 144.92h2.10M661.00 144.92h-2.10M415.80 139.65h3.90M661.00 139.65h-3.90M415.80 134.38h2.10M661.00 134.38h-2.10M415.80 129.10h2.10M661.00 129.10h-2.10M415.80 123.83h2.10M661.00 123.83h-2.10M415.80 118.55h2.10M661.00 118.55h-2.10M415.80 113.28h3.90M661.00 113.28h-3.90M415.80 108.01h2.10M661.00 108.01h-2.10M415.80 102.73h2.10M661.00 102.73h-2.10M415.80 97.46h2.10M661.00 97.46h-2.10M415.80 92.18h2.10M661.00 92.18h-2.10M415.80 86.91h3.90M661.00 86.91h-3.90M415.80 81.64h2.10M661.00 81.64h-2.10M415.80 76.36h2.10M661.00 76.36h-2.10M415.80 71.09h2.10M661.00 71.09h-2.10M415.80 65.81h2.10M661.00 65.81h-2.10M415.80 60.54h3.90M661.00 60.54h-3.90M415.80 55.27h2.10M661.00 55.27h-2.10M415.80 49.99h2.10M661.00 49.99h-2.10M415.80 44.72h2.10M661.00 44.72h-2.10M415.80 39.44h2.10M661.00 39.44h-2.10M415.80 34.17h3.90M661.00 34.17h-3.90M415.80 28.90h2.10M661.00 28.90h-2.10M415.80 23.62h2.10M661.00 23.62h-2.10M415.80 18.35h2.10M661.00 18.35h-2.10M415.80 13.07h2.10M661.00 13.07h-2.10" stroke="#3a3a3a" stroke-width="0.65" fill="none"/>
<rect x="415.80" y="7.80" width="245.20" height="226.70" fill="none" stroke="#2a2a2a" stroke-width="1.1"/>
<text transform="translate(436.30 247.10) scale(1.150 1)" text-anchor="start" class="tl">2.0</text>
<path d="M425.40 242.20h9.1" stroke="#111" stroke-width="1.05"/>
<text transform="translate(480.20 247.10) scale(1.150 1)" text-anchor="start" class="tl">1.5</text>
<path d="M469.30 242.20h9.1" stroke="#111" stroke-width="1.05"/>
<text transform="translate(524.10 247.10) scale(1.150 1)" text-anchor="start" class="tl">1.0</text>
<path d="M513.20 242.20h9.1" stroke="#111" stroke-width="1.05"/>
<text transform="translate(568.00 247.10) scale(1.150 1)" text-anchor="start" class="tl">0.5</text>
<path d="M557.10 242.20h9.1" stroke="#111" stroke-width="1.05"/>
<text transform="translate(617.40 247.10) scale(1.150 1)" text-anchor="middle" class="tl">0.0</text>
<text transform="translate(661.30 247.10) scale(1.150 1)" text-anchor="middle" class="tl">0.5</text>
<text transform="translate(415.60 225.16) scale(1.150 1)" text-anchor="end" class="tl">0.6</text>
<path d="M381.00 219.76h9.1" stroke="#111" stroke-width="1.05"/>
<text transform="translate(415.60 198.79) scale(1.150 1)" text-anchor="end" class="tl">0.5</text>
<path d="M381.00 193.39h9.1" stroke="#111" stroke-width="1.05"/>
<text transform="translate(415.60 172.42) scale(1.150 1)" text-anchor="end" class="tl">0.4</text>
<path d="M381.00 167.02h9.1" stroke="#111" stroke-width="1.05"/>
<text transform="translate(415.60 146.05) scale(1.150 1)" text-anchor="end" class="tl">0.3</text>
<path d="M381.00 140.65h9.1" stroke="#111" stroke-width="1.05"/>
<text transform="translate(415.60 119.68) scale(1.150 1)" text-anchor="end" class="tl">0.2</text>
<path d="M381.00 114.28h9.1" stroke="#111" stroke-width="1.05"/>
<text transform="translate(415.60 93.31) scale(1.150 1)" text-anchor="end" class="tl">0.1</text>
<path d="M381.00 87.91h9.1" stroke="#111" stroke-width="1.05"/>
<text transform="translate(415.60 66.94) scale(1.150 1)" text-anchor="end" class="tl">0.0</text>
<text transform="translate(415.60 40.57) scale(1.150 1)" text-anchor="end" class="tl">0.1</text>
<text transform="translate(415.60 14.20) scale(1.150 1)" text-anchor="end" class="tl">0.2</text>
<text transform="translate(538.40 262.50) scale(1.05 1)" text-anchor="middle" class="al">NUV-i</text>
<text transform="translate(375.40 121.75) rotate(-90) scale(1.15 1)" text-anchor="middle" class="al">u-g</text>
<rect x="676.40" y="206.16" width="11.50" height="28.64" fill="#72b898"/>
<rect x="676.40" y="177.82" width="11.50" height="28.64" fill="#d97d50"/>
<rect x="676.40" y="149.49" width="11.50" height="28.64" fill="#7f8ec3"/>
<rect x="676.40" y="121.15" width="11.50" height="28.64" fill="#c575b4"/>
<rect x="676.40" y="92.81" width="11.50" height="28.64" fill="#a2cd55"/>
<rect x="676.40" y="64.48" width="11.50" height="28.64" fill="#edd23a"/>
<rect x="676.40" y="36.14" width="11.50" height="28.64" fill="#d5bd8a"/>
<rect x="676.40" y="7.80" width="11.50" height="28.64" fill="#a8a8a8"/>
<rect x="676.40" y="7.80" width="11.50" height="226.70" fill="none" stroke="#2a2a2a" stroke-width="1.1"/>
<text x="688.60" y="223.83" class="cl">MS</text>
<text x="688.60" y="195.49" class="cl">HG</text>
<text x="688.60" y="167.16" class="cl">RG</text>
<text x="688.60" y="138.82" class="cl">CHeB</text>
<text x="688.60" y="110.48" class="cl">EAGB</text>
<text x="688.60" y="82.14" class="cl">TPAGB</text>
<text x="688.60" y="53.81" class="cl">postAGB</text>
<text x="688.60" y="25.47" class="cl">WR</text>
<path d="M687.90 220.33h-4.2M687.90 191.99h-4.2M687.90 163.66h-4.2M687.90 135.32h-4.2M687.90 106.98h-4.2M687.90 78.64h-4.2M687.90 50.31h-4.2M687.90 21.97h-4.2" stroke="#333" stroke-width="0.8" fill="none"/>
<path d="M58.72 536.70v-2.10M58.72 309.90v2.10M66.16 536.70v-2.10M66.16 309.90v2.10M73.60 536.70v-3.90M73.60 309.90v3.90M81.04 536.70v-2.10M81.04 309.90v2.10M88.48 536.70v-2.10M88.48 309.90v2.10M95.92 536.70v-2.10M95.92 309.90v2.10M103.36 536.70v-2.10M103.36 309.90v2.10M110.80 536.70v-2.10M110.80 309.90v2.10M118.24 536.70v-2.10M118.24 309.90v2.10M125.68 536.70v-2.10M125.68 309.90v2.10M133.12 536.70v-2.10M133.12 309.90v2.10M140.56 536.70v-2.10M140.56 309.90v2.10M148.00 536.70v-3.90M148.00 309.90v3.90M155.44 536.70v-2.10M155.44 309.90v2.10M162.88 536.70v-2.10M162.88 309.90v2.10M170.32 536.70v-2.10M170.32 309.90v2.10M177.76 536.70v-2.10M177.76 309.90v2.10M185.20 536.70v-2.10M185.20 309.90v2.10M192.64 536.70v-2.10M192.64 309.90v2.10M200.08 536.70v-2.10M200.08 309.90v2.10M207.52 536.70v-2.10M207.52 309.90v2.10M214.96 536.70v-2.10M214.96 309.90v2.10M222.40 536.70v-3.90M222.40 309.90v3.90M229.84 536.70v-2.10M229.84 309.90v2.10M237.28 536.70v-2.10M237.28 309.90v2.10M244.72 536.70v-2.10M244.72 309.90v2.10M252.16 536.70v-2.10M252.16 309.90v2.10M259.60 536.70v-2.10M259.60 309.90v2.10M267.04 536.70v-2.10M267.04 309.90v2.10M274.48 536.70v-2.10M274.48 309.90v2.10M281.92 536.70v-2.10M281.92 309.90v2.10M289.36 536.70v-2.10M289.36 309.90v2.10M51.60 531.48h2.10M296.50 531.48h-2.10M51.60 526.20h2.10M296.50 526.20h-2.10M51.60 520.92h3.90M296.50 520.92h-3.90M51.60 515.64h2.10M296.50 515.64h-2.10M51.60 510.36h2.10M296.50 510.36h-2.10M51.60 505.09h2.10M296.50 505.09h-2.10M51.60 499.81h2.10M296.50 499.81h-2.10M51.60 494.53h3.90M296.50 494.53h-3.90M51.60 489.25h2.10M296.50 489.25h-2.10M51.60 483.97h2.10M296.50 483.97h-2.10M51.60 478.70h2.10M296.50 478.70h-2.10M51.60 473.42h2.10M296.50 473.42h-2.10M51.60 468.14h3.90M296.50 468.14h-3.90M51.60 462.86h2.10M296.50 462.86h-2.10M51.60 457.58h2.10M296.50 457.58h-2.10M51.60 452.31h2.10M296.50 452.31h-2.10M51.60 447.03h2.10M296.50 447.03h-2.10M51.60 441.75h3.90M296.50 441.75h-3.90M51.60 436.47h2.10M296.50 436.47h-2.10M51.60 431.19h2.10M296.50 431.19h-2.10M51.60 425.92h2.10M296.50 425.92h-2.10M51.60 420.64h2.10M296.50 420.64h-2.10M51.60 415.36h3.90M296.50 415.36h-3.90M51.60 410.08h2.10M296.50 410.08h-2.10M51.60 404.80h2.10M296.50 404.80h-2.10M51.60 399.53h2.10M296.50 399.53h-2.10M51.60 394.25h2.10M296.50 394.25h-2.10M51.60 388.97h3.90M296.50 388.97h-3.90M51.60 383.69h2.10M296.50 383.69h-2.10M51.60 378.41h2.10M296.50 378.41h-2.10M51.60 373.14h2.10M296.50 373.14h-2.10M51.60 367.86h2.10M296.50 367.86h-2.10M51.60 362.58h3.90M296.50 362.58h-3.90M51.60 357.30h2.10M296.50 357.30h-2.10M51.60 352.02h2.10M296.50 352.02h-2.10M51.60 346.75h2.10M296.50 346.75h-2.10M51.60 341.47h2.10M296.50 341.47h-2.10M51.60 336.19h3.90M296.50 336.19h-3.90M51.60 330.91h2.10M296.50 330.91h-2.10M51.60 325.63h2.10M296.50 325.63h-2.10M51.60 320.36h2.10M296.50 320.36h-2.10M51.60 315.08h2.10M296.50 315.08h-2.10" stroke="#3a3a3a" stroke-width="0.65" fill="none"/>
<rect x="51.60" y="309.90" width="244.90" height="226.80" fill="none" stroke="#2a2a2a" stroke-width="1.1"/>
<text transform="translate(68.10 549.30) scale(1.150 1)" text-anchor="start" class="tl">2.5</text>
<path d="M57.20 544.40h9.1" stroke="#111" stroke-width="1.05"/>
<text transform="translate(142.50 549.30) scale(1.150 1)" text-anchor="start" class="tl">1.5</text>
<path d="M131.60 544.40h9.1" stroke="#111" stroke-width="1.05"/>
<text transform="translate(216.90 549.30) scale(1.150 1)" text-anchor="start" class="tl">0.5</text>
<path d="M206.00 544.40h9.1" stroke="#111" stroke-width="1.05"/>
<text transform="translate(296.80 549.30) scale(1.150 1)" text-anchor="middle" class="tl">0.5</text>
<text transform="translate(51.40 527.32) scale(1.150 1)" text-anchor="end" class="tl">0.6</text>
<path d="M16.80 521.92h9.1" stroke="#111" stroke-width="1.05"/>
<text transform="translate(51.40 500.93) scale(1.150 1)" text-anchor="end" class="tl">0.5</text>
<path d="M16.80 495.53h9.1" stroke="#111" stroke-width="1.05"/>
<text transform="translate(51.40 474.54) scale(1.150 1)" text-anchor="end" class="tl">0.4</text>
<path d="M16.80 469.14h9.1" stroke="#111" stroke-width="1.05"/>
<text transform="translate(51.40 448.15) scale(1.150 1)" text-anchor="end" class="tl">0.3</text>
<path d="M16.80 442.75h9.1" stroke="#111" stroke-width="1.05"/>
<text transform="translate(51.40 421.76) scale(1.150 1)" text-anchor="end" class="tl">0.2</text>
<path d="M16.80 416.36h9.1" stroke="#111" stroke-width="1.05"/>
<text transform="translate(51.40 395.37) scale(1.150 1)" text-anchor="end" class="tl">0.1</text>
<path d="M16.80 389.97h9.1" stroke="#111" stroke-width="1.05"/>
<text transform="translate(51.40 368.98) scale(1.150 1)" text-anchor="end" class="tl">0.0</text>
<text transform="translate(51.40 342.59) scale(1.150 1)" text-anchor="end" class="tl">0.1</text>
<text transform="translate(51.40 316.20) scale(1.150 1)" text-anchor="end" class="tl">0.2</text>
<text transform="translate(174.05 564.70) scale(1.05 1)" text-anchor="middle" class="al">NUV-z</text>
<text transform="translate(11.20 423.90) rotate(-90) scale(1.15 1)" text-anchor="middle" class="al">u-g</text>
<rect x="311.90" y="508.35" width="11.50" height="28.65" fill="#72b898"/>
<rect x="311.90" y="480.00" width="11.50" height="28.65" fill="#d97d50"/>
<rect x="311.90" y="451.65" width="11.50" height="28.65" fill="#7f8ec3"/>
<rect x="311.90" y="423.30" width="11.50" height="28.65" fill="#c575b4"/>
<rect x="311.90" y="394.95" width="11.50" height="28.65" fill="#a2cd55"/>
<rect x="311.90" y="366.60" width="11.50" height="28.65" fill="#edd23a"/>
<rect x="311.90" y="338.25" width="11.50" height="28.65" fill="#d5bd8a"/>
<rect x="311.90" y="309.90" width="11.50" height="28.65" fill="#a8a8a8"/>
<rect x="311.90" y="309.90" width="11.50" height="226.80" fill="none" stroke="#2a2a2a" stroke-width="1.1"/>
<text x="324.10" y="526.03" class="cl">MS</text>
<text x="324.10" y="497.68" class="cl">HG</text>
<text x="324.10" y="469.33" class="cl">RG</text>
<text x="324.10" y="440.98" class="cl">CHeB</text>
<text x="324.10" y="412.62" class="cl">EAGB</text>
<text x="324.10" y="384.27" class="cl">TPAGB</text>
<text x="324.10" y="355.92" class="cl">postAGB</text>
<text x="324.10" y="327.57" class="cl">WR</text>
<path d="M323.40 522.53h-4.2M323.40 494.18h-4.2M323.40 465.83h-4.2M323.40 437.48h-4.2M323.40 409.12h-4.2M323.40 380.77h-4.2M323.40 352.42h-4.2M323.40 324.07h-4.2" stroke="#333" stroke-width="0.8" fill="none"/>
<path d="M422.97 536.70v-2.10M422.97 310.00v2.10M430.65 536.70v-2.10M430.65 310.00v2.10M438.32 536.70v-2.10M438.32 310.00v2.10M446.00 536.70v-3.90M446.00 310.00v3.90M453.68 536.70v-2.10M453.68 310.00v2.10M461.35 536.70v-2.10M461.35 310.00v2.10M469.03 536.70v-2.10M469.03 310.00v2.10M476.70 536.70v-2.10M476.70 310.00v2.10M484.38 536.70v-3.90M484.38 310.00v3.90M492.06 536.70v-2.10M492.06 310.00v2.10M499.73 536.70v-2.10M499.73 310.00v2.10M507.41 536.70v-2.10M507.41 310.00v2.10M515.08 536.70v-2.10M515.08 310.00v2.10M522.76 536.70v-3.90M522.76 310.00v3.90M530.44 536.70v-2.10M530.44 310.00v2.10M538.11 536.70v-2.10M538.11 310.00v2.10M545.79 536.70v-2.10M545.79 310.00v2.10M553.46 536.70v-2.10M553.46 310.00v2.10M561.14 536.70v-3.90M561.14 310.00v3.90M568.82 536.70v-2.10M568.82 310.00v2.10M576.49 536.70v-2.10M576.49 310.00v2.10M584.17 536.70v-2.10M584.17 310.00v2.10M591.84 536.70v-2.10M591.84 310.00v2.10M599.52 536.70v-3.90M599.52 310.00v3.90M607.20 536.70v-2.10M607.20 310.00v2.10M614.87 536.70v-2.10M614.87 310.00v2.10M622.55 536.70v-2.10M622.55 310.00v2.10M630.22 536.70v-2.10M630.22 310.00v2.10M637.90 536.70v-3.90M637.90 310.00v3.90M645.58 536.70v-2.10M645.58 310.00v2.10M653.25 536.70v-2.10M653.25 310.00v2.10M415.80 531.70h2.10M661.00 531.70h-2.10M415.80 526.66h2.10M661.00 526.66h-2.10M415.80 521.62h3.90M661.00 521.62h-3.90M415.80 516.58h2.10M661.00 516.58h-2.10M415.80 511.54h2.10M661.00 511.54h-2.10M415.80 506.51h2.10M661.00 506.51h-2.10M415.80 501.47h2.10M661.00 501.47h-2.10M415.80 496.43h3.90M661.00 496.43h-3.90M415.80 491.39h2.10M661.00 491.39h-2.10M415.80 486.35h2.10M661.00 486.35h-2.10M415.80 481.32h2.10M661.00 481.32h-2.10M415.80 476.28h2.10M661.00 476.28h-2.10M415.80 471.24h3.90M661.00 471.24h-3.90M415.80 466.20h2.10M661.00 466.20h-2.10M415.80 461.16h2.10M661.00 461.16h-2.10M415.80 456.13h2.10M661.00 456.13h-2.10M415.80 451.09h2.10M661.00 451.09h-2.10M415.80 446.05h3.90M661.00 446.05h-3.90M415.80 441.01h2.10M661.00 441.01h-2.10M415.80 435.97h2.10M661.00 435.97h-2.10M415.80 430.94h2.10M661.00 430.94h-2.10M415.80 425.90h2.10M661.00 425.90h-2.10M415.80 420.86h3.90M661.00 420.86h-3.90M415.80 415.82h2.10M661.00 415.82h-2.10M415.80 410.78h2.10M661.00 410.78h-2.10M415.80 405.75h2.10M661.00 405.75h-2.10M415.80 400.71h2.10M661.00 400.71h-2.10M415.80 395.67h3.90M661.00 395.67h-3.90M415.80 390.63h2.10M661.00 390.63h-2.10M415.80 385.59h2.10M661.00 385.59h-2.10M415.80 380.56h2.10M661.00 380.56h-2.10M415.80 375.52h2.10M661.00 375.52h-2.10M415.80 370.48h3.90M661.00 370.48h-3.90M415.80 365.44h2.10M661.00 365.44h-2.10M415.80 360.40h2.10M661.00 360.40h-2.10M415.80 355.37h2.10M661.00 355.37h-2.10M415.80 350.33h2.10M661.00 350.33h-2.10M415.80 345.29h3.90M661.00 345.29h-3.90M415.80 340.25h2.10M661.00 340.25h-2.10M415.80 335.21h2.10M661.00 335.21h-2.10M415.80 330.18h2.10M661.00 330.18h-2.10M415.80 325.14h2.10M661.00 325.14h-2.10M415.80 320.10h3.90M661.00 320.10h-3.90M415.80 315.06h2.10M661.00 315.06h-2.10" stroke="#3a3a3a" stroke-width="0.65" fill="none"/>
<rect x="415.80" y="310.00" width="245.20" height="226.70" fill="none" stroke="#2a2a2a" stroke-width="1.1"/>
<text transform="translate(440.50 549.30) scale(1.150 1)" text-anchor="start" class="tl">2.5</text>
<path d="M429.60 544.40h9.1" stroke="#111" stroke-width="1.05"/>
<text transform="translate(478.88 549.30) scale(1.150 1)" text-anchor="start" class="tl">2.0</text>
<path d="M467.98 544.40h9.1" stroke="#111" stroke-width="1.05"/>
<text transform="translate(517.26 549.30) scale(1.150 1)" text-anchor="start" class="tl">1.5</text>
<path d="M506.36 544.40h9.1" stroke="#111" stroke-width="1.05"/>
<text transform="translate(555.64 549.30) scale(1.150 1)" text-anchor="start" class="tl">1.0</text>
<path d="M544.74 544.40h9.1" stroke="#111" stroke-width="1.05"/>
<text transform="translate(594.02 549.30) scale(1.150 1)" text-anchor="start" class="tl">0.5</text>
<path d="M583.12 544.40h9.1" stroke="#111" stroke-width="1.05"/>
<text transform="translate(637.90 549.30) scale(1.150 1)" text-anchor="middle" class="tl">0.0</text>
<text transform="translate(415.60 528.02) scale(1.150 1)" text-anchor="end" class="tl">0.6</text>
<path d="M381.00 522.62h9.1" stroke="#111" stroke-width="1.05"/>
<text transform="translate(415.60 502.83) scale(1.150 1)" text-anchor="end" class="tl">0.5</text>
<path d="M381.00 497.43h9.1" stroke="#111" stroke-width="1.05"/>
<text transform="translate(415.60 477.64) scale(1.150 1)" text-anchor="end" class="tl">0.4</text>
<path d="M381.00 472.24h9.1" stroke="#111" stroke-width="1.05"/>
<text transform="translate(415.60 452.45) scale(1.150 1)" text-anchor="end" class="tl">0.3</text>
<path d="M381.00 447.05h9.1" stroke="#111" stroke-width="1.05"/>
<text transform="translate(415.60 427.26) scale(1.150 1)" text-anchor="end" class="tl">0.2</text>
<path d="M381.00 421.86h9.1" stroke="#111" stroke-width="1.05"/>
<text transform="translate(415.60 402.07) scale(1.150 1)" text-anchor="end" class="tl">0.1</text>
<path d="M381.00 396.67h9.1" stroke="#111" stroke-width="1.05"/>
<text transform="translate(415.60 376.88) scale(1.150 1)" text-anchor="end" class="tl">0.0</text>
<text transform="translate(415.60 351.69) scale(1.150 1)" text-anchor="end" class="tl">0.1</text>
<text transform="translate(415.60 326.50) scale(1.150 1)" text-anchor="end" class="tl">0.2</text>
<text transform="translate(538.40 564.70) scale(1.05 1)" text-anchor="middle" class="al">NUV-y</text>
<text transform="translate(375.40 423.95) rotate(-90) scale(1.15 1)" text-anchor="middle" class="al">u-g</text>
<rect x="676.40" y="508.36" width="11.50" height="28.64" fill="#72b898"/>
<rect x="676.40" y="480.03" width="11.50" height="28.64" fill="#d97d50"/>
<rect x="676.40" y="451.69" width="11.50" height="28.64" fill="#7f8ec3"/>
<rect x="676.40" y="423.35" width="11.50" height="28.64" fill="#c575b4"/>
<rect x="676.40" y="395.01" width="11.50" height="28.64" fill="#a2cd55"/>
<rect x="676.40" y="366.68" width="11.50" height="28.64" fill="#edd23a"/>
<rect x="676.40" y="338.34" width="11.50" height="28.64" fill="#d5bd8a"/>
<rect x="676.40" y="310.00" width="11.50" height="28.64" fill="#a8a8a8"/>
<rect x="676.40" y="310.00" width="11.50" height="226.70" fill="none" stroke="#2a2a2a" stroke-width="1.1"/>
<text x="688.60" y="526.03" class="cl">MS</text>
<text x="688.60" y="497.69" class="cl">HG</text>
<text x="688.60" y="469.36" class="cl">RG</text>
<text x="688.60" y="441.02" class="cl">CHeB</text>
<text x="688.60" y="412.68" class="cl">EAGB</text>
<text x="688.60" y="384.34" class="cl">TPAGB</text>
<text x="688.60" y="356.01" class="cl">postAGB</text>
<text x="688.60" y="327.67" class="cl">WR</text>
<path d="M687.90 522.53h-4.2M687.90 494.19h-4.2M687.90 465.86h-4.2M687.90 437.52h-4.2M687.90 409.18h-4.2M687.90 380.84h-4.2M687.90 352.51h-4.2M687.90 324.17h-4.2" stroke="#333" stroke-width="0.8" fill="none"/>
</svg>
</body></html>
